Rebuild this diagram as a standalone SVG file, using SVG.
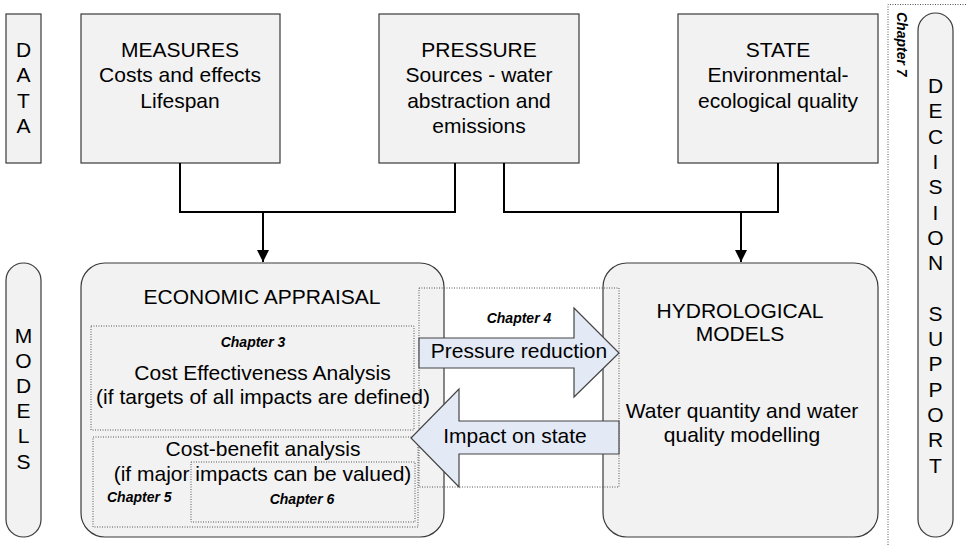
<svg xmlns="http://www.w3.org/2000/svg" width="966" height="545" viewBox="0 0 966 545">
<style>
  .box { fill: #f2f2f2; stroke: #3a3a3a; stroke-width: 1.2; }
  .dot { fill: none; stroke: #555; stroke-width: 1; stroke-dasharray: 1 1.5; }
  .t { font-family: "Liberation Sans", Arial, sans-serif; font-size: 21px; fill: #000; text-anchor: middle; }
  .ch { font-family: "Liberation Sans", Arial, sans-serif; font-size: 14px; font-weight: bold; font-style: italic; fill: #000; }
  .conn { fill: none; stroke: #000; stroke-width: 2; }
  .arrow { fill: #e3eaf6; stroke: #444; stroke-width: 1.2; }
</style>
<defs>
  <marker id="ah" markerWidth="12" markerHeight="12" viewBox="0 0 12 12" refX="12" refY="6" orient="auto" markerUnits="userSpaceOnUse">
    <path d="M0,0 L12,6 L0,12 Z" fill="#000"/>
  </marker>
</defs>
<rect width="966" height="545" fill="#fff"/>

<g id="data">
  <rect class="box" x="6" y="14" width="35" height="149"/>
  <text class="t" x="23.5" y="57">D</text>
  <text class="t" x="23.5" y="82">A</text>
  <text class="t" x="23.5" y="108">T</text>
  <text class="t" x="23.5" y="133">A</text>
</g>

<g id="measures">
  <rect class="box" x="81" y="14" width="199" height="149"/>
  <text class="t" x="180" y="57">MEASURES</text>
  <text class="t" x="180" y="82">Costs and effects</text>
  <text class="t" x="180" y="108">Lifespan</text>
</g>

<g id="pressure">
  <rect class="box" x="379" y="14" width="200" height="149"/>
  <text class="t" x="479" y="57">PRESSURE</text>
  <text class="t" x="479" y="82">Sources - water</text>
  <text class="t" x="479" y="108">abstraction and</text>
  <text class="t" x="479" y="133">emissions</text>
</g>

<g id="state">
  <rect class="box" x="678" y="14" width="200" height="149"/>
  <text class="t" x="778" y="57">STATE</text>
  <text class="t" x="778" y="82">Environmental-</text>
  <text class="t" x="778" y="108">ecological quality</text>
</g>

<g id="chapter7">
  <path class="dot" d="M888,545 V4.5 H966"/>
  <text class="ch" transform="translate(897,12) rotate(90)">Chapter 7</text>
</g>

<g id="decision-support">
  <rect class="box" x="918" y="13" width="35" height="524" rx="17.5" ry="17.5"/>
  <text class="t" x="935.5" y="93">D</text>
  <text class="t" x="935.5" y="118">E</text>
  <text class="t" x="935.5" y="144">C</text>
  <text class="t" x="935.5" y="169">I</text>
  <text class="t" x="935.5" y="194">S</text>
  <text class="t" x="935.5" y="220">I</text>
  <text class="t" x="935.5" y="245">O</text>
  <text class="t" x="935.5" y="270">N</text>
  <text class="t" x="935.5" y="321">S</text>
  <text class="t" x="935.5" y="346">U</text>
  <text class="t" x="935.5" y="371">P</text>
  <text class="t" x="935.5" y="397">P</text>
  <text class="t" x="935.5" y="422">O</text>
  <text class="t" x="935.5" y="447">R</text>
  <text class="t" x="935.5" y="473">T</text>
</g>

<g id="models">
  <rect class="box" x="6" y="263" width="35" height="274" rx="17.5" ry="17.5"/>
  <text class="t" x="23.5" y="343">M</text>
  <text class="t" x="23.5" y="368">O</text>
  <text class="t" x="23.5" y="393">D</text>
  <text class="t" x="23.5" y="418">E</text>
  <text class="t" x="23.5" y="443">L</text>
  <text class="t" x="23.5" y="469">S</text>
</g>

<g id="economic-appraisal">
  <rect class="box" x="81" y="263" width="363" height="274" rx="24" ry="24"/>
  <text class="t" x="262" y="304">ECONOMIC APPRAISAL</text>
</g>

<g id="hydrological-models">
  <rect class="box" x="603" y="263" width="275" height="274" rx="24" ry="24"/>
  <text class="t" x="740" y="318">HYDROLOGICAL</text>
  <text class="t" x="740" y="341">MODELS</text>
  <text class="t" x="742" y="418">Water quantity and water</text>
  <text class="t" x="742" y="442">quality modelling</text>
</g>

<g id="cost-effectiveness">
  <rect class="dot" x="91" y="326" width="323" height="104"/>
  <text class="ch" x="253" y="347" text-anchor="middle">Chapter 3</text>
  <text class="t" x="262.5" y="380">Cost Effectiveness Analysis</text>
  <text class="t" x="263" y="404">(if targets of all impacts are defined)</text>
</g>

<g id="cost-benefit">
  <rect class="dot" x="93" y="437" width="325" height="90"/>
  <rect class="dot" x="191" y="462" width="224" height="60"/>
  <text class="t" x="263" y="456">Cost-benefit analysis</text>
  <text class="t" x="262.5" y="481">(if major impacts can be valued)</text>
  <text class="ch" x="107" y="502">Chapter 5</text>
  <text class="ch" x="302" y="504" text-anchor="middle">Chapter 6</text>
</g>

<g id="chapter4">
  <rect class="dot" x="419" y="288" width="200" height="199"/>
  <text class="ch" x="519" y="323" text-anchor="middle">Chapter 4</text>
</g>

<g id="pressure-reduction">
  <polygon class="arrow" points="419,338 574,338 574,308 619,353 574,397 574,368 419,368"/>
  <text class="t" x="519" y="358">Pressure reduction</text>
</g>

<g id="impact-on-state">
  <polygon class="arrow" points="619,421 459,421 459,389 411,438 459,487 459,454 619,454"/>
  <text class="t" x="515" y="443">Impact on state</text>
</g>

<g id="connectors">
  <path class="conn" d="M180,163 V212 H455 V163"/>
  <path class="conn" d="M263,212 V262" marker-end="url(#ah)"/>
  <path class="conn" d="M504,163 V212 H778 V163"/>
  <path class="conn" d="M741,212 V262" marker-end="url(#ah)"/>
</g>
</svg>
